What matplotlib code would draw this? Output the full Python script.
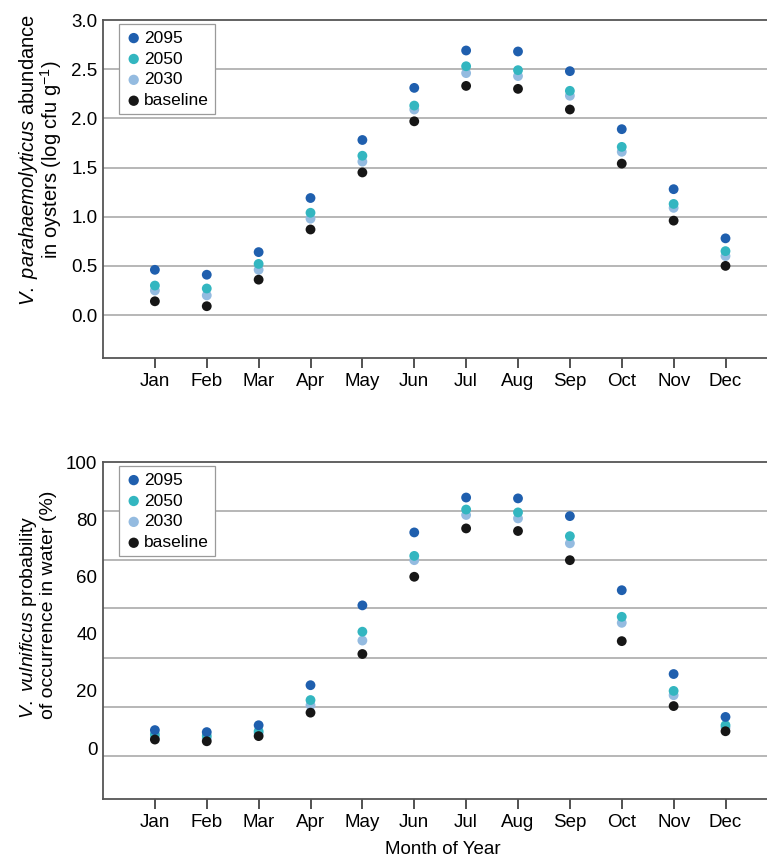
import matplotlib
matplotlib.use("Agg")
import matplotlib.pyplot as plt
import numpy as np

plt.rcParams['font.family'] = ['Liberation Sans', 'DejaVu Sans']
plt.rcParams['mathtext.fontset'] = 'custom'
plt.rcParams['mathtext.rm'] = 'Liberation Sans'
plt.rcParams['mathtext.it'] = 'Liberation Sans:italic'

# months on the x axis
months = ["Jan", "Feb", "Mar", "Apr", "May", "Jun",
          "Jul", "Aug", "Sep", "Oct", "Nov", "Dec"]

# V. parahaemolyticus in oysters (log cfu/g)
vp_2095 = [0.46, 0.41, 0.64, 1.19, 1.78, 2.31, 2.69, 2.68, 2.48, 1.89, 1.28, 0.78]
vp_2050 = [0.30, 0.27, 0.52, 1.04, 1.62, 2.13, 2.53, 2.49, 2.28, 1.71, 1.13, 0.65]
vp_2030 = [0.25, 0.20, 0.46, 0.98, 1.56, 2.09, 2.46, 2.43, 2.23, 1.66, 1.09, 0.60]
vp_base = [0.14, 0.09, 0.36, 0.87, 1.45, 1.97, 2.33, 2.30, 2.09, 1.54, 0.96, 0.50]

# V. vulnificus probability of occurrence in water (%)
vv_2095 = [6.3, 5.6, 8.0, 22.0, 49.9, 75.4, 87.6, 87.3, 81.1, 55.2, 25.9, 10.9]
vv_2050 = [4.8, 4.3, 5.9, 16.8, 40.7, 67.2, 83.4, 82.4, 74.1, 45.9, 20.0, 8.0]
vv_2030 = [3.8, 3.4, 5.2, 15.0, 37.6, 65.7, 81.5, 80.3, 71.6, 43.8, 18.5, 7.2]
vv_base = [3.0, 2.4, 4.2, 12.4, 32.9, 59.9, 76.8, 75.9, 65.7, 37.4, 14.7, 5.9]

# gridlines (the lower panel's lines sit off the tick labels in the original)
grid_top = [0.0, 0.5, 1.0, 1.5, 2.0, 2.5]
grid_bottom = [-2.8, 14.3, 31.5, 49.0, 65.7, 82.9]

labels = ["2095", "2050", "2030", "baseline"]
colors = ["#1f5fae", "#33b6c0", "#94bbe0", "#161616"]

x = np.arange(1, 13)

fig = plt.figure(figsize=(7.67, 8.59), dpi=100)
ax1 = fig.add_axes([0.1343, 0.5832, 0.8657, 0.3935])
ax2 = fig.add_axes([0.1343, 0.0698, 0.8657, 0.3923])


def draw_panel(ax, series, grid, ylim, yticks, ylabel, label_pos, label_size,
               malign, lspace):
    for g in grid:
        ax.axhline(g, color="#a3a3a3", lw=1.1, zorder=1)
    # draw order: 2030, 2050, 2095, baseline on top
    order = [2, 1, 0, 3]
    handles = {}
    for i in order:
        h = ax.scatter(x, series[i], s=50, color=colors[i], zorder=3 + order.index(i),
                       edgecolors="none", label=labels[i])
        handles[i] = h
    ax.set_xlim(0, 12.8)
    ax.set_ylim(*ylim)
    ax.set_xticks(x)
    ax.set_xticklabels(months)
    ax.set_yticks(yticks)
    ax.tick_params(axis="x", length=7, width=1.2, color="#333333", labelsize=13.5, pad=4)
    ax.tick_params(axis="y", length=0, labelsize=13.5, pad=4)
    for side in ["top", "left", "bottom"]:
        ax.spines[side].set_color("#555555")
        ax.spines[side].set_linewidth(1.3)
    ax.spines["right"].set_visible(False)
    leg = ax.legend([handles[i] for i in range(4)], labels, loc="upper left",
                    bbox_to_anchor=(0.024, 0.987), fontsize=12.5, frameon=True,
                    fancybox=False, edgecolor="#9a9a9a", framealpha=1,
                    handletextpad=0.1, handlelength=1.0, labelspacing=0.33,
                    borderpad=0.35, borderaxespad=0, scatterpoints=1,
                    markerscale=1.05)
    leg.get_frame().set_linewidth(0.9)
    leg.set_zorder(10)
    ax.text(label_pos[0], label_pos[1], ylabel, transform=ax.transAxes, rotation=90,
            ha="center", va="center", multialignment=malign, fontsize=label_size,
            linespacing=lspace)


draw_panel(ax1, [vp_2095, vp_2050, vp_2030, vp_base], grid_top,
           (-0.437, 3.0), [0.0, 0.5, 1.0, 1.5, 2.0, 2.5, 3.0],
           "$\\mathit{V.\\ parahaemolyticus}$ abundance\nin oysters (log cfu g$^{-1}$)",
           (-0.094, 0.586), 14.5, "center", 0.92)
ax1.set_yticklabels(["0.0", "0.5", "1.0", "1.5", "2.0", "2.5", "3.0"])

draw_panel(ax2, [vv_2095, vv_2050, vv_2030, vv_base], grid_bottom,
           (-17.8, 100), [0, 20, 40, 60, 80, 100],
           "$\\mathit{V.\\ vulnificus}$ probability\nof occurrence in water (%)",
           (-0.099, 0.576), 14, "left", 1.05)

fig.text(443 / 767, 1 - 850 / 859, "Month of Year", ha="center", va="center", fontsize=13.5)

fig.savefig("out.png", dpi=100)
